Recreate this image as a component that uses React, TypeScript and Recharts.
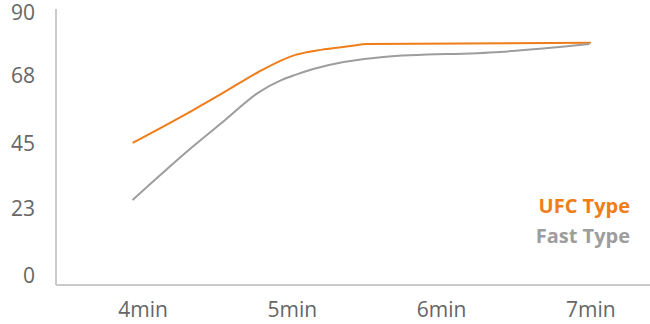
import { LineChart, Line, XAxis, YAxis } from 'recharts'

// minutes, values on a 0-90 scale
const ufcMinutes = [3.93, 4.33, 4.55, 4.77, 5.02, 5.19, 5.39, 5.5, 7]
const ufcValues = [45.2, 56.2, 62.6, 69.2, 75.1, 76.8, 78.1, 78.8, 79.2]

const fastMinutes = [3.93, 4.33, 4.55, 4.77, 4.93, 5.02, 5.14, 5.61, 6.39, 6.99]
const fastValues = [25.8, 43.8, 53, 62.2, 66.6, 68.3, 70.3, 74.4, 76.1, 78.8]

const xTicks = [4, 5, 6, 7]
const yTicks = [0, 23, 45, 68, 90]

const seriesNames = ['UFC Type', 'Fast Type']
const seriesColors = ['#EE7D1A', '#9D9D9D']

const ufcData = ufcMinutes.map((m, i) => ({ m, v: ufcValues[i] }))
const fastData = fastMinutes.map((m, i) => ({ m, v: fastValues[i] }))

const font = '"Open Sans", sans-serif'

export default function App() {
  return (
    <div style={{ position: 'absolute', left: 0, top: 0, width: 650, height: 324, background: '#fff' }}>
      <LineChart width={650} height={324} margin={{ top: 9, right: 0, bottom: 9, left: 0 }}>
        <XAxis
          dataKey="m"
          type="number"
          domain={[3.417, 7.396]}
          allowDataOverflow
          ticks={xTicks}
          tickFormatter={(m) => `${m}min`}
          tickLine={false}
          tickMargin={11}
          axisLine={{ stroke: '#CACACA', strokeWidth: 2 }}
          tick={{ fill: '#666', fontSize: 21, fontFamily: font }}
        />
        <YAxis
          type="number"
          domain={[-3.06, 90.68]}
          allowDataOverflow
          ticks={yTicks}
          width={56}
          tickLine={false}
          tickMargin={15}
          axisLine={{ stroke: '#CACACA', strokeWidth: 2 }}
          tick={{ fill: '#666', fontSize: 21, fontFamily: font }}
        />
        <Line
          data={ufcData}
          dataKey="v"
          type="monotone"
          stroke={seriesColors[0]}
          strokeWidth={2}
          dot={false}
          isAnimationActive={false}
        />
        <Line
          data={fastData}
          dataKey="v"
          type="monotone"
          stroke={seriesColors[1]}
          strokeWidth={2}
          dot={false}
          isAnimationActive={false}
        />
      </LineChart>
      <div
        style={{
          position: 'absolute',
          right: 20,
          top: 191,
          textAlign: 'right',
          fontFamily: font,
          fontWeight: 700,
          fontSize: 20,
          lineHeight: '30px',
        }}
      >
        {seriesNames.map((name, i) => (
          <div key={name} style={{ color: seriesColors[i] }}>
            {name}
          </div>
        ))}
      </div>
    </div>
  )
}
